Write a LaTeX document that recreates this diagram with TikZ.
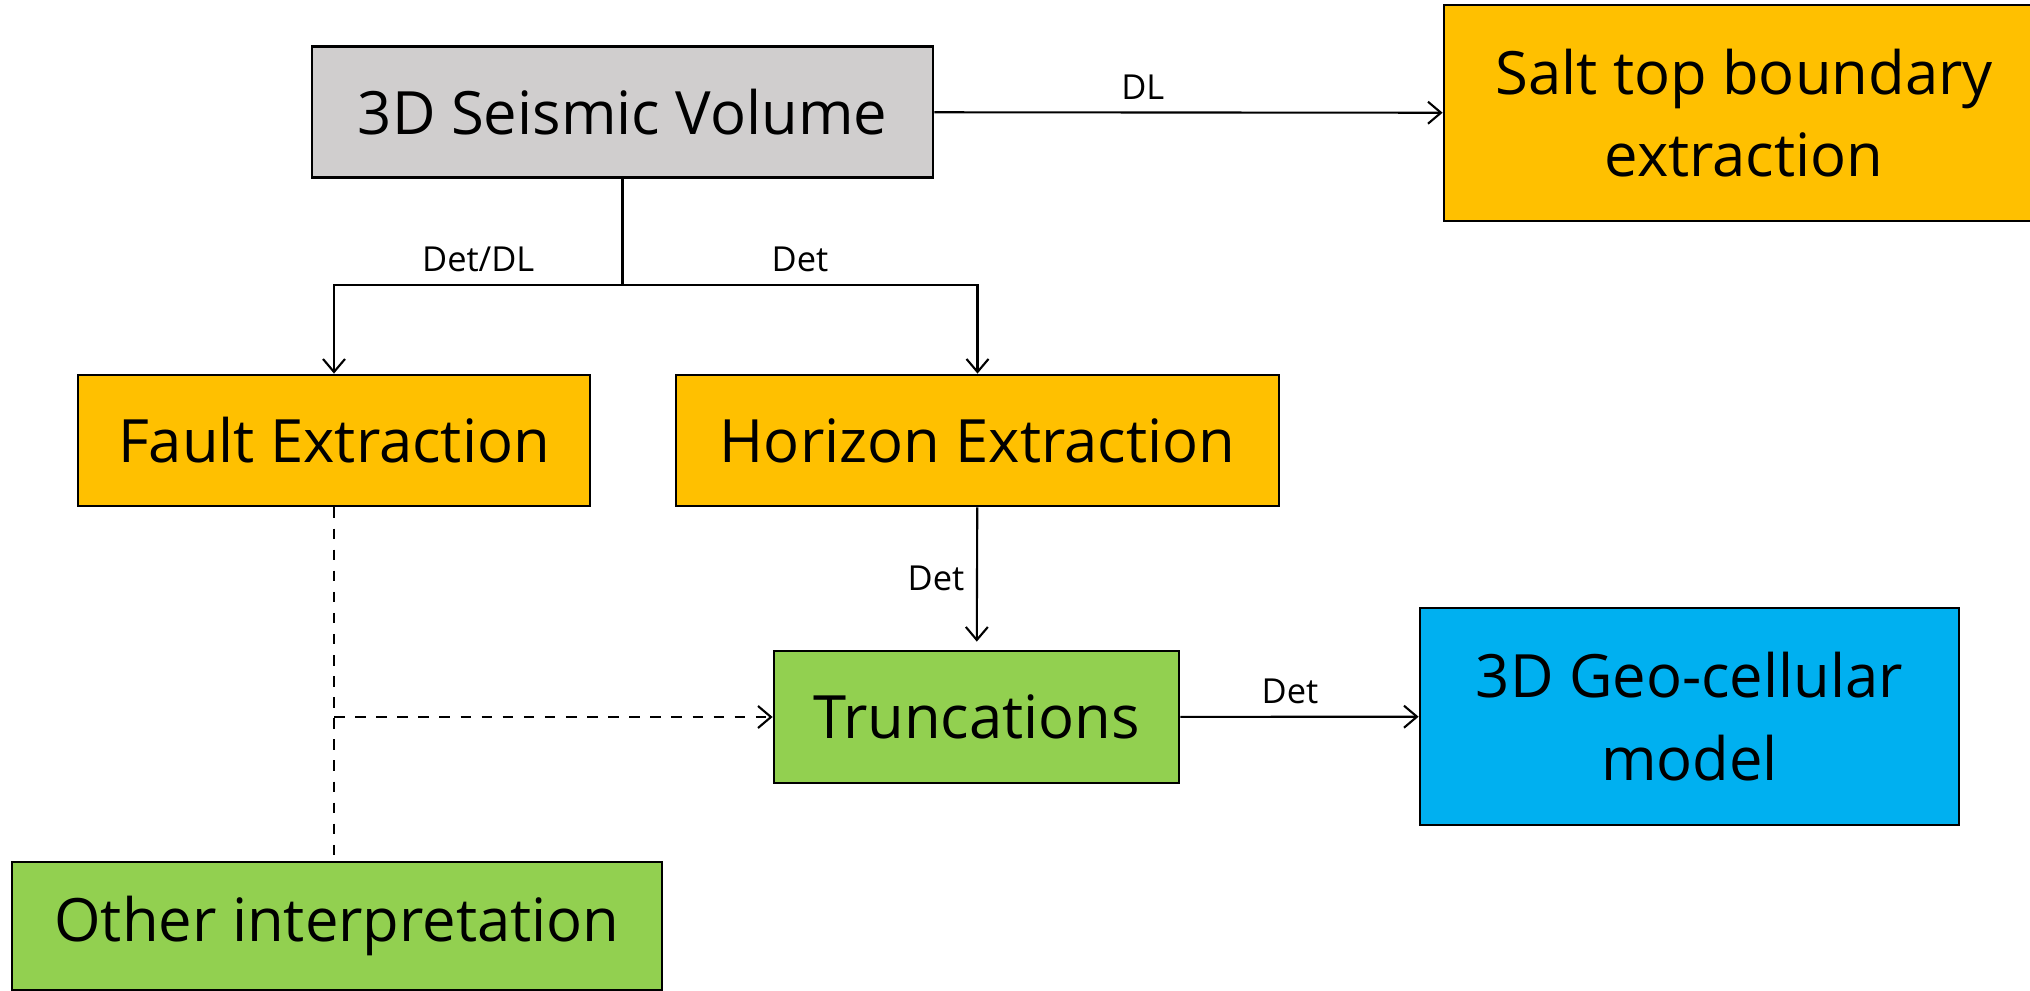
\documentclass[tikz,border=0pt]{standalone}
\usepackage{fontspec}
\setmainfont{Open Sans}
\usetikzlibrary{arrows.meta}

\definecolor{boxgray}{HTML}{D0CECE}
\definecolor{boxorange}{HTML}{FFC000}
\definecolor{boxgreen}{HTML}{92D050}
\definecolor{boxblue}{HTML}{00B0F0}

\begin{document}
\begin{tikzpicture}[
  stage/.style={draw,rectangle,line width=0.8pt,align=center,font=\fontsize{17}{23.5}\selectfont,inner sep=0pt},
  link/.style={line width=0.6pt,-{Straight Barb[length=1.3mm,width=2.2mm]}},
  tag/.style={font=\fontsize{9.8}{11}\selectfont}]
\useasboundingbox (0,0) rectangle (20.3,-9.9);
\node (seis) at (6.225,-1.12) [stage,fill=boxgray,minimum width=6.21cm,minimum height=1.31cm] {3D Seismic Volume};
\node (salt) at (17.44,-1.13) [stage,fill=boxorange,minimum width=6cm,minimum height=2.16cm] {Salt top boundary\\extraction};
\node (fault) at (3.34,-4.405) [stage,fill=boxorange,minimum width=5.12cm,minimum height=1.31cm] {Fault Extraction};
\node (horizon) at (9.775,-4.405) [stage,fill=boxorange,minimum width=6.03cm,minimum height=1.31cm] {Horizon Extraction};
\node (trunc) at (9.765,-7.17) [stage,fill=boxgreen,minimum width=4.05cm,minimum height=1.32cm] {Truncations};
\node (geo) at (16.895,-7.165) [stage,fill=boxblue,minimum width=5.39cm,minimum height=2.17cm] {3D Geo-cellular\\model};
\node (other) at (3.37,-9.26) [stage,fill=boxgreen,minimum width=6.5cm,minimum height=1.28cm] {Other interpretation};
\coordinate (split) at (6.225,-2.85);
\coordinate (branch) at (fault.south |- trunc.west);
\draw[link] (seis) -- node[tag,above,pos=0.41] {DL} (salt);
\draw[line width=0.6pt] (seis) -- (split);
\draw[link] (split) -| node[tag,above,pos=0.25] {Det/DL} (fault);
\draw[link] (split) -| node[tag,above,pos=0.25] {Det} (horizon);
\draw[link,shorten >=0.08cm] (horizon) -- node[tag,left,pos=0.5] {Det} (trunc);
\draw[link] (trunc) -- node[tag,above,pos=0.46] {Det} (geo);
\draw[line width=0.6pt,dashed] (fault.south) -- (fault.south |- other.north);
\draw[link,dashed] (branch) -- (trunc);
\end{tikzpicture}
\end{document}
